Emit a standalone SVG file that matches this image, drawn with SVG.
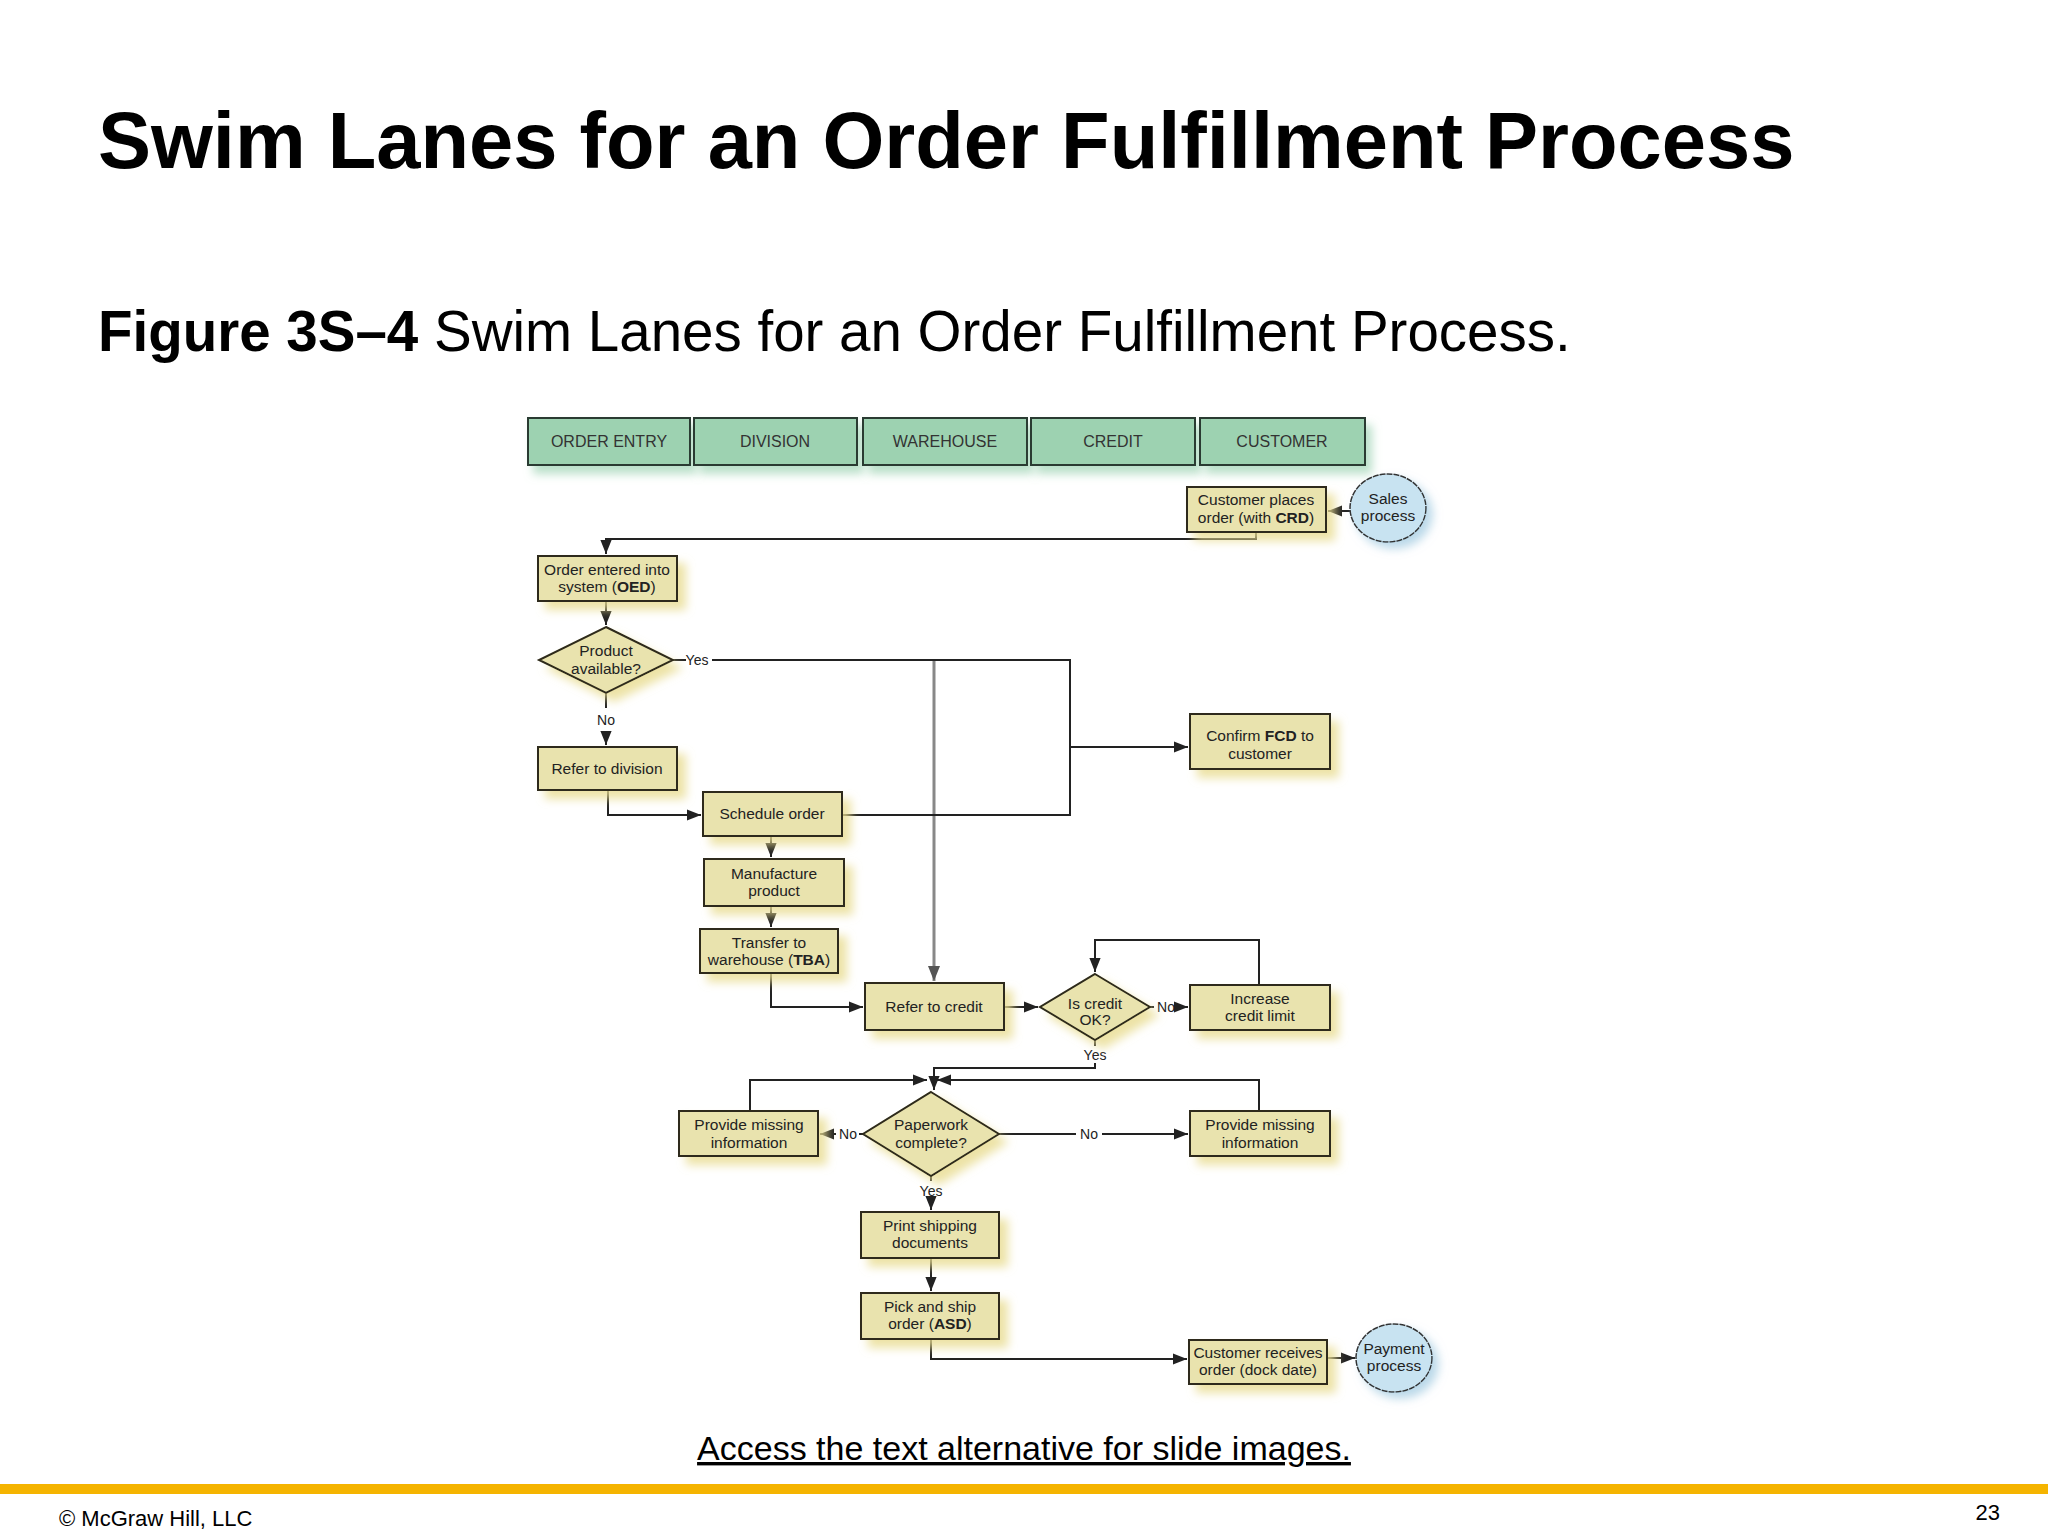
<svg xmlns="http://www.w3.org/2000/svg" width="2048" height="1536" viewBox="0 0 2048 1536">
<style>
.t{font-family:"Liberation Sans",Arial,sans-serif;fill:#000}
.n{font-family:"Liberation Sans",Arial,sans-serif;font-size:15.5px;fill:#222;text-anchor:middle}
.h{font-family:"Liberation Sans",Arial,sans-serif;font-size:16px;fill:#333;text-anchor:middle}
.lb{font-family:"Liberation Sans",Arial,sans-serif;font-size:14px;fill:#222;text-anchor:middle}
.hd{fill:#9dd2b1;stroke:#2b3b30;stroke-width:2;filter:url(#sg)}
.bx{fill:#e9e3ae;stroke:#2d2a1a;stroke-width:2;filter:url(#sy)}
.ci{fill:#c8e3f1;stroke:#333;stroke-width:1.5;stroke-dasharray:6 1;filter:url(#sb)}
.c{fill:none;stroke:#222;stroke-width:2}
.g{fill:none;stroke:#888;stroke-width:3}
</style>
<defs>
<filter id="sy" x="-20%" y="-30%" width="150%" height="180%"><feDropShadow dx="8" dy="8" stdDeviation="5" flood-color="#e8dc90" flood-opacity="0.8"/></filter>
<filter id="sg" x="-20%" y="-30%" width="150%" height="180%"><feDropShadow dx="6" dy="8" stdDeviation="5" flood-color="#a8d8bc" flood-opacity="0.8"/></filter>
<filter id="sb" x="-30%" y="-30%" width="180%" height="180%"><feDropShadow dx="6" dy="6" stdDeviation="5" flood-color="#a9cfe3" flood-opacity="0.8"/></filter>
<marker id="a" viewBox="0 0 10 10" refX="10" refY="5" markerWidth="7" markerHeight="7" orient="auto"><path d="M0,1 L10,5 L0,9 Z" fill="#222"/></marker>
<marker id="ag" viewBox="0 0 10 10" refX="10" refY="5" markerWidth="5" markerHeight="5" orient="auto"><path d="M0,1 L10,5 L0,9 Z" fill="#555"/></marker>
</defs>
<rect width="2048" height="1536" fill="#fff"/>
<text class="t" x="98" y="168" font-size="79.5" font-weight="bold">Swim Lanes for an Order Fulfillment Process</text>
<text class="t" x="98" y="351" font-size="56.5"><tspan font-weight="bold">Figure 3S–4</tspan> Swim Lanes for an Order Fulfillment Process.</text>

<g id="lanes">
<rect class="hd" x="528" y="418" width="162" height="47"/><text class="h" x="609" y="447">ORDER ENTRY</text>
<rect class="hd" x="694" y="418" width="163" height="47"/><text class="h" x="775" y="447">DIVISION</text>
<rect class="hd" x="863" y="418" width="164" height="47"/><text class="h" x="945" y="447">WAREHOUSE</text>
<rect class="hd" x="1031" y="418" width="164" height="47"/><text class="h" x="1113" y="447">CREDIT</text>
<rect class="hd" x="1200" y="418" width="165" height="47"/><text class="h" x="1282" y="447">CUSTOMER</text>
</g>

<g id="connectors">
<path class="g" d="M934,660 V981" marker-end="url(#ag)"/>
<path class="c" d="M1350,511 H1328" marker-end="url(#a)"/>
<path class="c" d="M1256,532 V539 H606 V554" marker-end="url(#a)"/>
<path class="c" d="M606,601 V625" marker-end="url(#a)"/>
<path class="c" d="M673,660 H686 M712,660 H1070 V815 H842"/>
<path class="c" d="M1070,747 H1188" marker-end="url(#a)"/>
<path class="c" d="M606,693 V708 M606,732 V745" marker-end="url(#a)"/>
<path class="c" d="M608,790 V815 H701" marker-end="url(#a)"/>
<path class="c" d="M771,836 V857" marker-end="url(#a)"/>
<path class="c" d="M771,906 V927" marker-end="url(#a)"/>
<path class="c" d="M771,973 V1007 H863" marker-end="url(#a)"/>
<path class="c" d="M1004,1007 H1038" marker-end="url(#a)"/>
<path class="c" d="M1150,1007 H1154 M1179,1007 H1188" marker-end="url(#a)"/>
<path class="c" d="M1259,985 V940 H1095 V972" marker-end="url(#a)"/>
<path class="c" d="M1095,1040 V1046 M1095,1063 V1068 H934 V1090" marker-end="url(#a)"/>
<path class="c" d="M750,1111 V1080 H927" marker-end="url(#a)"/>
<path class="c" d="M1259,1111 V1080 H937" marker-end="url(#a)"/>
<path class="c" d="M863,1134 H859 M836,1134 H820" marker-end="url(#a)"/>
<path class="c" d="M999,1134 H1076 M1102,1134 H1188" marker-end="url(#a)"/>
<path class="c" d="M931,1176 V1181 M931,1200 V1210" marker-end="url(#a)"/>
<path class="c" d="M931,1258 V1291" marker-end="url(#a)"/>
<path class="c" d="M931,1339 V1359 H1187" marker-end="url(#a)"/>
<path class="c" d="M1327,1358 H1355" marker-end="url(#a)"/>
<text class="lb" x="697" y="665">Yes</text>
<text class="lb" x="606" y="725">No</text>
<text class="lb" x="1166" y="1012">No</text>
<text class="lb" x="1095" y="1060">Yes</text>
<text class="lb" x="848" y="1139">No</text>
<text class="lb" x="1089" y="1139">No</text>
<text class="lb" x="931" y="1196">Yes</text>
</g>

<g id="sales"><ellipse class="ci" cx="1388" cy="508" rx="38" ry="34"/><text class="n" x="1388" y="504">Sales</text><text class="n" x="1388" y="521">process</text></g>
<g id="cust_places"><rect class="bx" x="1187" y="487" width="139" height="45"/><text class="n" x="1256" y="505">Customer places</text><text class="n" x="1256" y="523">order (with <tspan font-weight="bold">CRD</tspan>)</text></g>
<g id="order_entered"><rect class="bx" x="538" y="556" width="139" height="45"/><text class="n" x="607" y="575">Order entered into</text><text class="n" x="607" y="592">system (<tspan font-weight="bold">OED</tspan>)</text></g>
<g id="product_avail"><polygon class="bx" points="606,627 673,660 606,693 539,660"/><text class="n" x="606" y="656">Product</text><text class="n" x="606" y="674">available?</text></g>
<g id="confirm_fcd"><rect class="bx" x="1190" y="714" width="140" height="55"/><text class="n" x="1260" y="741">Confirm <tspan font-weight="bold">FCD</tspan> to</text><text class="n" x="1260" y="759">customer</text></g>
<g id="refer_division"><rect class="bx" x="538" y="747" width="139" height="43"/><text class="n" x="607" y="774">Refer to division</text></g>
<g id="schedule"><rect class="bx" x="703" y="792" width="139" height="44"/><text class="n" x="772" y="819">Schedule order</text></g>
<g id="manufacture"><rect class="bx" x="704" y="859" width="140" height="47"/><text class="n" x="774" y="879">Manufacture</text><text class="n" x="774" y="896">product</text></g>
<g id="transfer"><rect class="bx" x="700" y="929" width="138" height="44"/><text class="n" x="769" y="948">Transfer to</text><text class="n" x="769" y="965">warehouse (<tspan font-weight="bold">TBA</tspan>)</text></g>
<g id="refer_credit"><rect class="bx" x="865" y="983" width="139" height="47"/><text class="n" x="934" y="1012">Refer to credit</text></g>
<g id="credit_ok"><polygon class="bx" points="1095,974 1150,1007 1095,1040 1040,1007"/><text class="n" x="1095" y="1009">Is credit</text><text class="n" x="1095" y="1025">OK?</text></g>
<g id="increase"><rect class="bx" x="1190" y="985" width="140" height="45"/><text class="n" x="1260" y="1004">Increase</text><text class="n" x="1260" y="1021">credit limit</text></g>
<g id="paperwork"><polygon class="bx" points="931,1092 999,1134 931,1176 863,1134"/><text class="n" x="931" y="1130">Paperwork</text><text class="n" x="931" y="1148">complete?</text></g>
<g id="missing_left"><rect class="bx" x="679" y="1111" width="139" height="45"/><text class="n" x="749" y="1130">Provide missing</text><text class="n" x="749" y="1148">information</text></g>
<g id="missing_right"><rect class="bx" x="1190" y="1111" width="140" height="45"/><text class="n" x="1260" y="1130">Provide missing</text><text class="n" x="1260" y="1148">information</text></g>
<g id="print"><rect class="bx" x="861" y="1212" width="138" height="46"/><text class="n" x="930" y="1231">Print shipping</text><text class="n" x="930" y="1248">documents</text></g>
<g id="pick"><rect class="bx" x="861" y="1293" width="138" height="46"/><text class="n" x="930" y="1312">Pick and ship</text><text class="n" x="930" y="1329">order (<tspan font-weight="bold">ASD</tspan>)</text></g>
<g id="cust_receives"><rect class="bx" x="1189" y="1340" width="138" height="44"/><text class="n" x="1258" y="1358">Customer receives</text><text class="n" x="1258" y="1375">order (dock date)</text></g>
<g id="payment"><ellipse class="ci" cx="1394" cy="1358" rx="38" ry="34"/><text class="n" x="1394" y="1354">Payment</text><text class="n" x="1394" y="1371">process</text></g>

<text class="t" x="1024" y="1460" font-size="34" text-anchor="middle" text-decoration="underline">Access the text alternative for slide images.</text>
<rect x="0" y="1484" width="2048" height="10" fill="#f5b400"/>
<text class="t" x="59" y="1526" font-size="22">© McGraw Hill, LLC</text>
<text class="t" x="2000" y="1520" font-size="22" text-anchor="end">23</text>
</svg>
